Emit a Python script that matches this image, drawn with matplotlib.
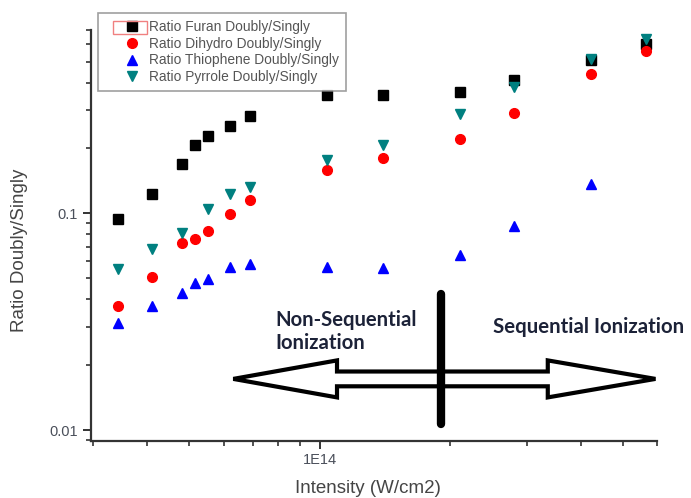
import matplotlib
matplotlib.use("Agg")
import matplotlib.pyplot as plt
from matplotlib.patches import Polygon, Rectangle
from matplotlib.ticker import FixedLocator, FuncFormatter, NullFormatter

plt.rcParams["font.family"] = ["Liberation Sans", "DejaVu Sans"]

# --- data ------------------------------------------------------------------
intensity = [3.43e13, 4.11e13, 4.80e13, 5.15e13, 5.52e13, 6.21e13, 6.91e13,
             1.04e14, 1.40e14, 2.11e14, 2.81e14, 4.22e14, 5.67e14]
furan = [0.094, 0.122, 0.169, 0.207, 0.226, 0.251, 0.282,
         0.350, 0.350, 0.362, 0.413, 0.507, 0.605]
dihydro = [0.0372, 0.0507, 0.0730, 0.0757, 0.0829, 0.0986, 0.115,
           0.158, 0.179, 0.219, 0.291, 0.436, 0.558]
# thiophene has no point at the highest intensity
thiophene_x = intensity[:-1]
thiophene = [0.0310, 0.0374, 0.0427, 0.0474, 0.0498, 0.0562, 0.0582,
             0.0562, 0.0556, 0.0640, 0.0874, 0.137]
# pyrrole has no point at the 4th intensity
pyrrole_x = intensity[:3] + intensity[4:]
pyrrole = [0.0551, 0.0687, 0.0814, 0.105, 0.123, 0.132,
           0.175, 0.206, 0.286, 0.382, 0.513, 0.638]

labels = ["Ratio Furan Doubly/Singly", "Ratio Dihydro Doubly/Singly",
          "Ratio Thiophene Doubly/Singly", "Ratio Pyrrole Doubly/Singly"]

AXC = "#333333"
LBL = "#454545"
NAVY = "#1c2238"

fig = plt.figure(figsize=(6.91, 4.98), dpi=100)
ax = fig.add_axes([0.131, 0.1145, 0.82, 0.8255])

ax.plot(intensity, furan, "s", color="black", ms=6.5, label=labels[0], clip_on=False)
ax.plot(intensity, dihydro, "o", color="red", ms=7, label=labels[1], clip_on=False)
ax.plot(thiophene_x, thiophene, "^", color="blue", ms=7.5, label=labels[2], clip_on=False)
ax.plot(pyrrole_x, pyrrole, "v", color="#008080", ms=7.5, label=labels[3], clip_on=False)

ax.set_xscale("log")
ax.set_yscale("log")
ax.set_xlim(2.96e13, 6.001e14)
ax.set_ylim(0.0089, 0.7001)

for side in ("top", "right"):
    ax.spines[side].set_visible(False)
for side in ("left", "bottom"):
    ax.spines[side].set_linewidth(1.6)
    ax.spines[side].set_color(AXC)

ax.xaxis.set_major_locator(FixedLocator([1e14]))
ax.xaxis.set_major_formatter(FuncFormatter(lambda v, p: "1E14"))
ax.xaxis.set_minor_formatter(NullFormatter())
ax.yaxis.set_major_locator(FixedLocator([0.01, 0.1]))
ax.yaxis.set_major_formatter(FuncFormatter(lambda v, p: "0.1" if v > 0.05 else "0.01"))
ax.yaxis.set_minor_formatter(NullFormatter())
ax.tick_params(which="major", length=6, width=1.4, color=AXC,
               labelsize=10.5, labelcolor="#4a4f5a", pad=3)
ax.tick_params(which="minor", length=3.5, width=1.2, color=AXC)

fig.text(368 / 691, 1 - 488 / 498, "Intensity (W/cm2)", fontsize=13.5,
         color=LBL, ha="center", va="center")
fig.text(20 / 691, 1 - 250 / 498, "Ratio Doubly/Singly", fontsize=13.5,
         color=LBL, ha="center", va="center", rotation=90)

# --- legend (sits partly above the axes, as in the reference) --------------
leg = fig.legend(loc="upper left", bbox_to_anchor=(98 / 691, 1 - 13 / 498),
                 frameon=True, fancybox=False, fontsize=9.9, labelcolor="#555555",
                 handlelength=3.94, handletextpad=-0.73, labelspacing=0.2,
                 borderpad=0.5, borderaxespad=0.0, numpoints=1)
leg.get_frame().set_edgecolor("#888888")
leg.get_frame().set_linewidth(1.2)
fig.add_artist(Rectangle((113 / 691, 1 - 34 / 498), 34 / 691, 13 / 498,
                         transform=fig.transFigure, fill=False,
                         edgecolor="#f08080", lw=1.0, zorder=10))

# --- hollow double arrow and regime divider --------------------------------
yc, hs, hh = 0.151, 0.018, 0.045
x_tip_l, x_base_l, x_base_r, x_tip_r = 0.252, 0.435, 0.807, 0.997
arrow = Polygon([(x_tip_l, yc), (x_base_l, yc + hh), (x_base_l, yc + hs),
                 (x_base_r, yc + hs), (x_base_r, yc + hh), (x_tip_r, yc),
                 (x_base_r, yc - hh), (x_base_r, yc - hs), (x_base_l, yc - hs),
                 (x_base_l, yc - hh)], closed=True, transform=ax.transAxes,
                facecolor="white", edgecolor="black", lw=3.0, joinstyle="miter",
                clip_on=False, zorder=5)
ax.add_patch(arrow)
ax.plot([0.619, 0.619], [0.042, 0.357], transform=ax.transAxes, color="black",
        lw=6, solid_capstyle="round", clip_on=False, zorder=6)

ax.text(0.327, 0.266, "Non-Sequential\nIonization", transform=ax.transAxes,
        fontsize=14.6, fontweight="bold", color=NAVY, family="Lato",
        ha="left", va="center", linespacing=1.2)
ax.text(0.71, 0.277, "Sequential Ionization", transform=ax.transAxes,
        fontsize=14.7, fontweight="bold", color=NAVY, family="Lato",
        ha="left", va="center", clip_on=False)

fig.savefig("out.png", dpi=100)
